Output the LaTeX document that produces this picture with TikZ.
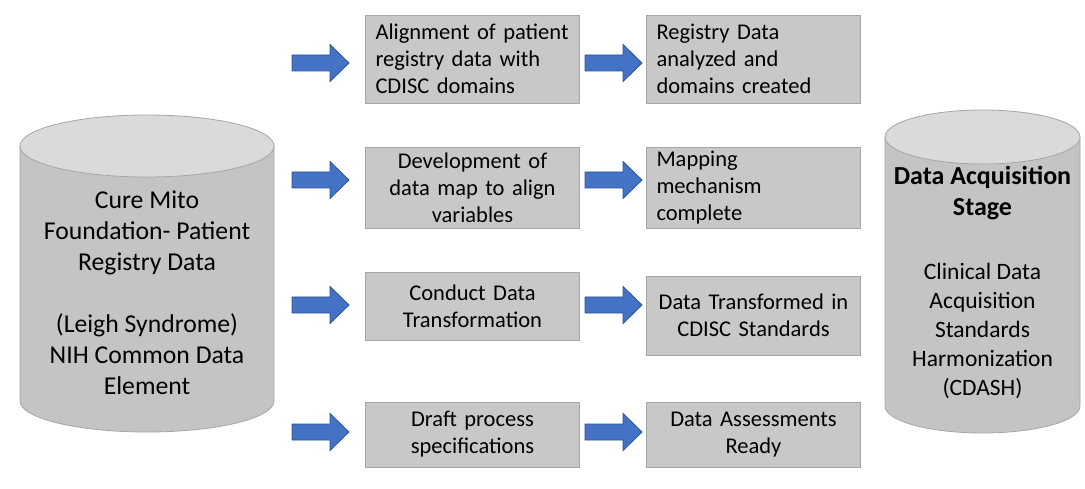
\documentclass[tikz,border=0pt]{standalone}
\usepackage{fontspec}
\setmainfont{Carlito}
\definecolor{boxfill}{HTML}{C8C8C8}
\definecolor{boxline}{HTML}{A6A6A6}
\definecolor{cylbody}{HTML}{C4C4C4}
\definecolor{cylcap}{HTML}{DADADA}
\definecolor{arrowfill}{HTML}{4472C4}
\definecolor{arrowline}{HTML}{2F5597}
\begin{document}
\begin{tikzpicture}[x=1pt,y=-1pt,
  procbox/.style={draw=boxline, fill=boxfill, line width=0.8pt, inner xsep=10pt,
    inner ysep=0pt, font=\fontsize{22.5}{27}\selectfont, text=black,
    minimum height=#1, text width=194pt},
  procbox/.default=66pt,
  lbox/.style={align=left},
  cbox/.style={align=center},
  cylline/.style={draw=boxline, line width=0.8pt},
  blockarrow/.pic={
    \path[fill=arrowfill, draw=arrowline, line width=0.8pt]
      (0,-8) -- (38,-8) -- (38,-18.5) -- (57,0) -- (38,18.5) -- (38,8) -- (0,8) -- cycle;
  }
]
% canvas
\fill[white] (0,0) rectangle (1085,489);

% source registry (left cylinder)
\path[cylline, fill=cylbody] (20,146) -- (20,401)
  arc[start angle=180, end angle=0, x radius=127, y radius=31] -- (274,146) -- cycle;
\path[cylline, fill=cylcap] (147,146) ellipse [x radius=127, y radius=31];
\node[font=\fontsize{25.7}{31}\selectfont, align=center] (src) at (147,293)
  {Cure Mito\\Foundation- Patient\\Registry Data\\[31pt](Leigh Syndrome)\\NIH Common Data\\Element};

% target stage (right cylinder)
\path[cylline, fill=cylbody] (885,137) -- (885,406)
  arc[start angle=180, end angle=0, x radius=97.5, y radius=27] -- (1080,137) -- cycle;
\path[cylline, fill=cylcap] (982.5,137) ellipse [x radius=97.5, y radius=27];
\node[font=\fontsize{26}{31}\selectfont\bfseries, align=center] (dsttitle) at (982.5,193)
  {Data Acquisition\\Stage};
\node[font=\fontsize{23.5}{29}\selectfont, align=center] (dst) at (982.5,331)
  {Clinical Data\\Acquisition\\Standards\\Harmonization\\(CDASH)};

% process steps
\node[procbox=88pt, lbox] (s1) at (472.5,59) {Alignment of patient registry data with CDISC domains};
\node[procbox=81pt, cbox] (s2) at (472.5,187.5) {Development of\\data map to align\\variables};
\node[procbox=68pt, cbox] (s3) at (472.5,306) {Conduct Data\\Transformation};
\node[procbox=65pt, cbox] (s4) at (472.5,434.5) {Draft process\\specifications};

% outcomes
\node[procbox=88pt, lbox] (o1) at (753.5,59) {Registry Data\\analyzed and\\domains created};
\node[procbox=81pt, lbox] (o2) at (753.5,187.5) {Mapping\\mechanism\\complete};
\node[procbox=79pt, cbox] (o3) at (753.5,315.5) {Data Transformed in\\CDISC Standards};
\node[procbox=65pt, cbox] (o4) at (753.5,434.5) {Data Assessments\\Ready};

% block arrows into the steps and on to the outcomes
\foreach \r/\y in {1/63, 2/180, 3/305, 4/432} {
  \pic (in\r) at (292,\y) {blockarrow};
  \pic (out\r) at (585,\y) {blockarrow};
}
\end{tikzpicture}
\end{document}
